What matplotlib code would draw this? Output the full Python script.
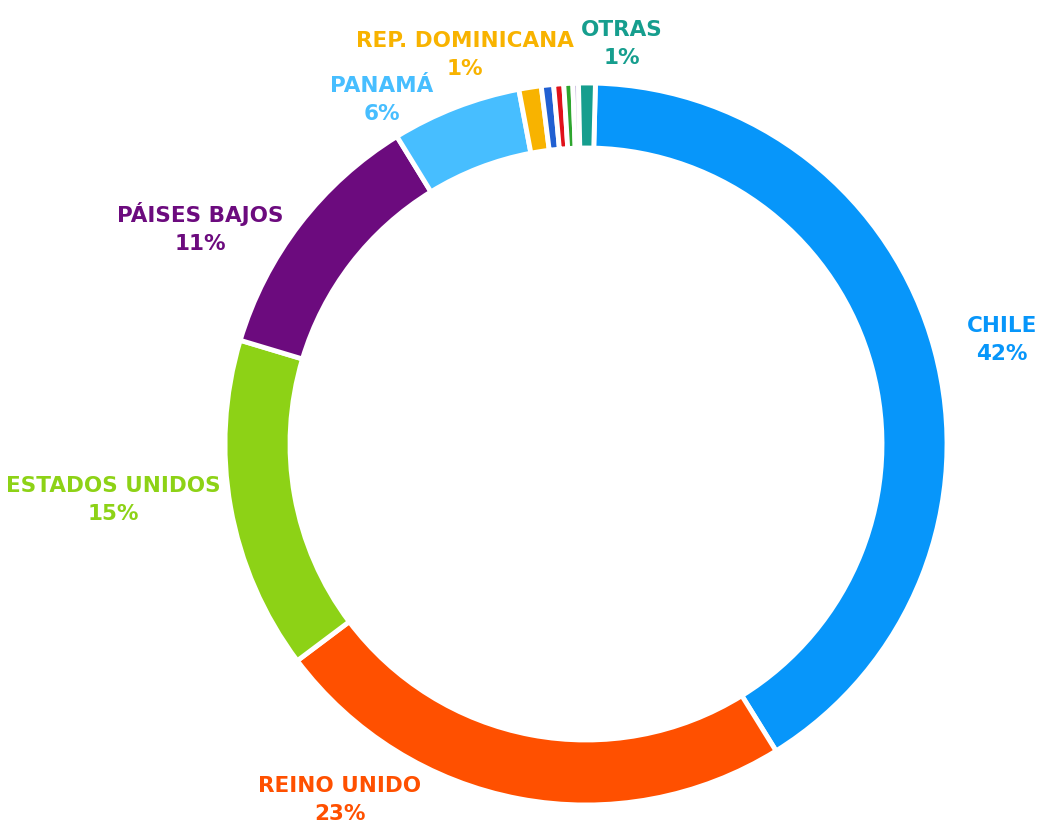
import matplotlib.pyplot as plt

countries = ["CHILE", "REINO UNIDO", "ESTADOS UNIDOS", "PÁISES BAJOS", "PANAMÁ",
             "REP. DOMINICANA", "", "", "", "", "OTRAS"]
shares = [40.8, 23.6, 14.9, 11.6, 5.8, 1.0, 0.55, 0.45, 0.4, 0.25, 0.75]
pct_labels = ["42%", "23%", "15%", "11%", "6%", "1%", "", "", "", "", "1%"]
colors = ["#0796FA", "#FF5000", "#8DD216", "#6C0B7E", "#47BEFF", "#F8B300",
          "#2160D2", "#E0121A", "#2EA52E", "#B9A6D6", "#169E8E"]

# label anchors in pixel coords (x, y from top)
label_pos = [(1002, 340), (340, 800), (113, 500), (200, 228), (382, 100),
             (465, 55), None, None, None, None, (622, 44)]

W, H = 1039, 827
fig = plt.figure(figsize=(W / 100, H / 100), dpi=100)
ax = fig.add_axes([0, 0, 1, 1])

cx, cy, r = 586, H - 444, 361
ax.pie(shares, colors=colors, startangle=88.5, counterclock=False,
       center=(cx, cy), radius=r, frame=True,
       wedgeprops=dict(width=65, edgecolor="white", linewidth=3.5))
ax.set_xlim(0, W)
ax.set_ylim(0, H)
ax.set_aspect("equal")
ax.axis("off")

for name, pct, col, pos in zip(countries, pct_labels, colors, label_pos):
    if pos is None:
        continue
    ax.text(pos[0], H - pos[1], name + "\n" + pct, color=col, ha="center", va="center",
            fontsize=15.5, fontweight="bold", linespacing=1.45,
            family=["DejaVu Sans"])

fig.savefig("out.png", dpi=100)
